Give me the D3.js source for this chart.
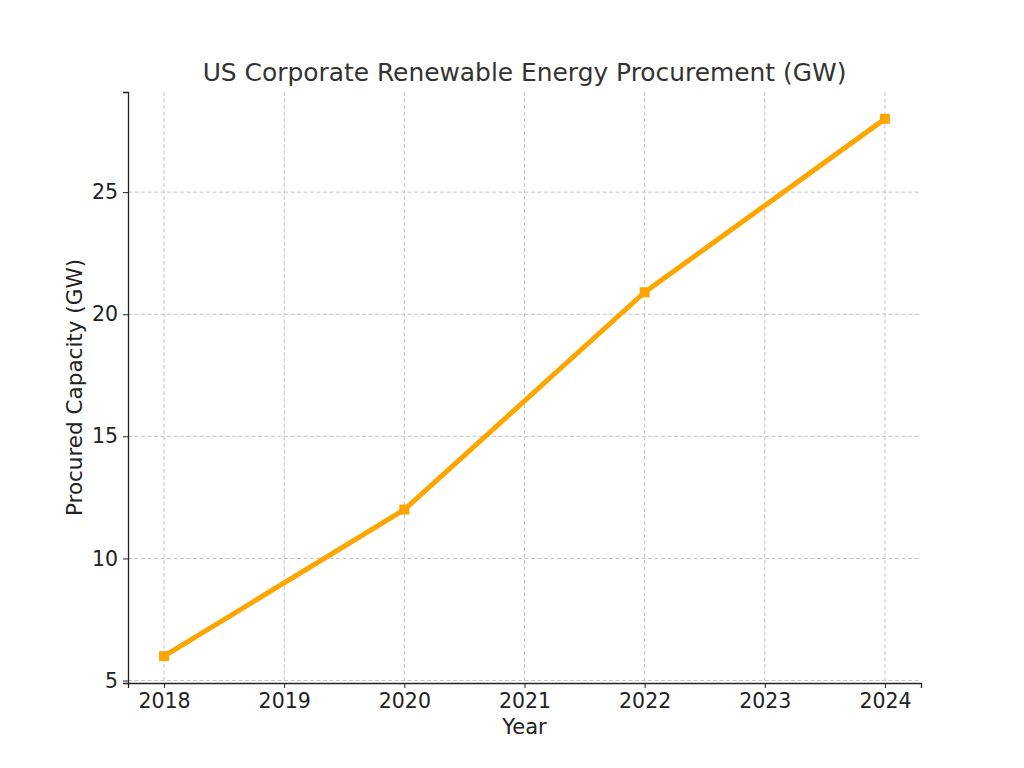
<!DOCTYPE html>
<html><head><meta charset="utf-8">
<script src="https://cdn.jsdelivr.net/npm/d3@7"></script>
<style>body{margin:0;background:#fff}svg{display:block}text{font-family:"DejaVu Sans",sans-serif}</style>
</head><body><svg id="c" width="1024" height="768"></svg>
<script>
const years = [2018, 2020, 2022, 2024];
const capacity = [6, 12, 20.9, 28];
const xTicks = [2018, 2019, 2020, 2021, 2022, 2023, 2024];
const yTicks = [5, 10, 15, 20, 25];
const title = "US Corporate Renewable Energy Procurement (GW)";
const xLabel = "Year";
const yLabel = "Procured Capacity (GW)";

const svg = d3.select("#c");
const L = 128, R = 921, T = 92, B = 683;
const x = d3.scaleLinear().domain([2017.7, 2024.3]).range([L, R]);
const y = d3.scaleLinear().domain([4.9, 29.1]).range([B, T]);

// grid
svg.append("g").selectAll("line").data(xTicks).join("line")
  .attr("x1", d => x(d)).attr("x2", d => x(d)).attr("y1", T).attr("y2", B)
  .attr("stroke", "#c4c4c4").attr("stroke-width", 1).attr("stroke-dasharray", "4,2.5");
svg.append("g").selectAll("line").data(yTicks).join("line")
  .attr("y1", d => y(d)).attr("y2", d => y(d)).attr("x1", L).attr("x2", R)
  .attr("stroke", "#c4c4c4").attr("stroke-width", 1).attr("stroke-dasharray", "4,2.5");

// axes
const xa = svg.append("g").attr("transform", `translate(0,${B})`)
  .call(d3.axisBottom(x).tickValues(xTicks).tickFormat(d3.format("d")).tickSizeOuter(0).tickSize(5).tickPadding(5));
const ya = svg.append("g").attr("transform", `translate(${L},0)`)
  .call(d3.axisLeft(y).tickValues(yTicks).tickSizeOuter(0).tickSize(5).tickPadding(5));
[xa, ya].forEach(a => {
  a.attr("font-family", "DejaVu Sans").attr("font-size", 20.5);
  a.select(".domain").attr("stroke", "#222").attr("stroke-width", 1.3);
  a.selectAll(".tick line").attr("stroke", "#222").attr("stroke-width", 1);
  a.selectAll(".tick text").attr("fill", "#222");
});

// line
const pts = years.map((d, i) => [d, capacity[i]]);
svg.append("path").datum(pts)
  .attr("d", d3.line().x(d => x(d[0])).y(d => y(d[1])))
  .attr("fill", "none").attr("stroke", "#FFA500").attr("stroke-width", 5)
  .attr("stroke-linejoin", "round");
svg.append("g").selectAll("rect").data(pts).join("rect")
  .attr("x", d => x(d[0]) - 5).attr("y", d => y(d[1]) - 5)
  .attr("width", 10).attr("height", 10).attr("fill", "#FFA500");

// labels
svg.append("text").attr("x", (L + R) / 2).attr("y", 81).attr("text-anchor", "middle")
  .attr("font-size", 24.9).attr("fill", "#333").text(title);
svg.append("text").attr("x", (L + R) / 2).attr("y", 734).attr("text-anchor", "middle")
  .attr("font-size", 21).attr("fill", "#222").text(xLabel);
svg.append("text").attr("transform", `translate(82,${(T + B) / 2}) rotate(-90)`)
  .attr("text-anchor", "middle").attr("font-size", 21.5).attr("fill", "#222").text(yLabel);
</script></body></html>
